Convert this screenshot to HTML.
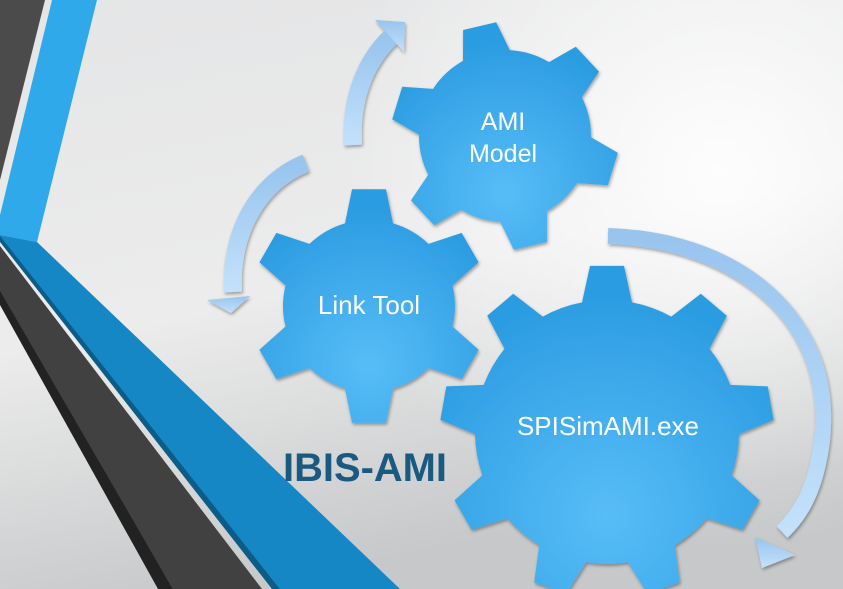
<!DOCTYPE html>
<html><head><meta charset="utf-8"><style>
html,body{margin:0;padding:0;width:843px;height:589px;overflow:hidden;}
svg{display:block}
</style></head><body>
<svg id="s" width="843" height="589" viewBox="0 0 843 589" xmlns="http://www.w3.org/2000/svg">
<defs>
<linearGradient id="bg" x1="0" y1="0" x2="0.3" y2="1">
<stop offset="0" stop-color="#e4e5e6"/><stop offset="0.55" stop-color="#ececec"/><stop offset="1" stop-color="#c6c8c9"/></linearGradient>
<radialGradient id="bgw" cx="720" cy="170" r="380" gradientUnits="userSpaceOnUse">
<stop offset="0" stop-color="#ffffff" stop-opacity="0.9"/><stop offset="1" stop-color="#ffffff" stop-opacity="0"/></radialGradient>
<linearGradient id="arr" x1="0" y1="0" x2="0" y2="1">
<stop offset="0" stop-color="#98c4ee"/><stop offset="1" stop-color="#c4e1fb"/></linearGradient>
<filter id="sh" x="-10%" y="-10%" width="120%" height="120%"><feDropShadow dx="1" dy="2" stdDeviation="1.5" flood-color="#000" flood-opacity="0.35"/></filter>
</defs>
<rect width="843" height="589" fill="url(#bg)"/>
<rect width="843" height="589" fill="url(#bgw)"/>
<!-- left decorations -->
<polygon points="0,0 45,0 0,180" fill="#4b4b4b"/>
<polygon points="52,0 97,0 37,242 0,235 0,215" fill="#2fa9ea"/>
<polygon points="0,235 37,242 400,589 280,589 0,238" fill="#1487c4"/>
<polygon points="0,236 280,589 272,589 0,242" fill="#0b5c86"/>
<polygon points="0,246 262,589 173,589 0,293" fill="#414141"/>
<polygon points="0,291 173,589 158,589 0,305" fill="#222"/>
<g id="gears" filter="url(#sh)"></g>
<!-- arrows -->
<g filter="url(#sh)">
<path d="M353,145 C 350,95 368,58 392,36" stroke="url(#arr)" stroke-width="18" fill="none"/>
<polygon points="375,20 405,22 404,52" fill="url(#arr)"/>
<path d="M306,163 C 258,182 230,232 233,292" stroke="url(#arr)" stroke-width="18" fill="none"/>
<polygon points="207,300 250,296 231,313" fill="url(#arr)"/>
<path d="M608,236 C 740,240 835,320 822,440 C 816,490 800,515 782,532" stroke="url(#arr)" stroke-width="16" fill="none"/>
<polygon points="755,537 795,555 762,568" fill="url(#arr)"/>
</g>
<g font-family="Liberation Sans, sans-serif" fill="#fff" text-anchor="middle">
<text x="503" y="130" font-size="25">AMI</text>
<text x="503" y="162" font-size="25">Model</text>
<text x="369" y="314" font-size="26">Link Tool</text>
<text x="608" y="435" font-size="26">SPISimAMI.exe</text>
</g>
<text x="283" y="481" font-family="Liberation Sans, sans-serif" font-weight="bold" font-size="40" fill="#1b5a80" textLength="164" lengthAdjust="spacingAndGlyphs">IBIS-AMI</text>
</svg>
<script>
var NS="http://www.w3.org/2000/svg";
var g=document.getElementById("gears");
var defs=document.querySelector("defs");
function gear(id,cx,cy,rb,ro,n,rot,wb,wt){
  var lg=document.createElementNS(NS,"radialGradient");
  lg.setAttribute("id",id);lg.setAttribute("gradientUnits","userSpaceOnUse");
  lg.setAttribute("cx",cx);lg.setAttribute("cy",cy+ro*0.5);lg.setAttribute("r",ro*1.3);
  lg.innerHTML='<stop offset="0" stop-color="#58bdf7"/><stop offset="1" stop-color="#2c9de2"/>';
  defs.appendChild(lg);
  var ab=Math.asin(wb/rb), at=Math.asin(wt/ro);
  var d="";
  var p=function(r,a){return (cx+r*Math.cos(a)).toFixed(1)+","+(cy+r*Math.sin(a)).toFixed(1);};
  for(var i=0;i<n;i++){
    var a0=(rot+i*360/n-90)*Math.PI/180;
    var a1=(rot+(i+1)*360/n-90)*Math.PI/180;
    d+=(i==0?"M":"L")+p(rb,a0-ab)+" L"+p(ro,a0-at)+" L"+p(ro,a0+at)+" L"+p(rb,a0+ab)+" A"+rb+","+rb+" 0 0 1 "+p(rb,a1-ab)+" ";
  }
  d+="Z";
  var e=document.createElementNS(NS,"path");
  e.setAttribute("d",d);e.setAttribute("fill","url(#"+id+")");
  g.appendChild(e);
}
gear("g1",505,136,86,114,6,-13,24,17);
gear("g2",369,306,86,118,6,0,24,17);
gear("g3",607,432,132,167,9,0,25,17);
</script>
</body></html>
